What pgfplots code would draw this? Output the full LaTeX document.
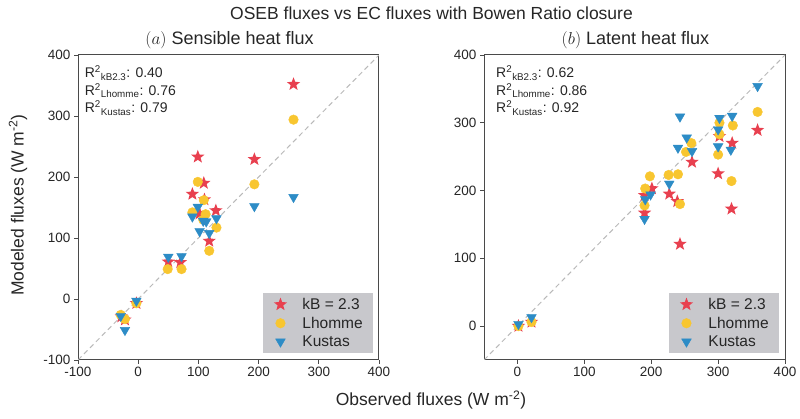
\documentclass[border=0pt]{standalone}
\usepackage{pgfplots}
\pgfplotsset{compat=1.18}
\usepackage{fontspec}
\setmainfont{Liberation Sans}
\setsansfont{Liberation Sans}
\definecolor{cred}{HTML}{E8404F}
\definecolor{cyel}{HTML}{F8C630}
\definecolor{cblue}{HTML}{2D8CC6}
\definecolor{legbg}{HTML}{C8C8CC}
\definecolor{framec}{HTML}{4A4A4A}
\definecolor{txt}{HTML}{262626}
\pgfdeclareplotmark{fstar}{%
  \pgfpathmoveto{\pgfpointpolar{90}{\pgfplotmarksize}}%
  \pgfpathlineto{\pgfpointpolar{126}{0.42\pgfplotmarksize}}%
  \pgfpathlineto{\pgfpointpolar{162}{\pgfplotmarksize}}%
  \pgfpathlineto{\pgfpointpolar{198}{0.42\pgfplotmarksize}}%
  \pgfpathlineto{\pgfpointpolar{234}{\pgfplotmarksize}}%
  \pgfpathlineto{\pgfpointpolar{270}{0.42\pgfplotmarksize}}%
  \pgfpathlineto{\pgfpointpolar{306}{\pgfplotmarksize}}%
  \pgfpathlineto{\pgfpointpolar{342}{0.42\pgfplotmarksize}}%
  \pgfpathlineto{\pgfpointpolar{18}{\pgfplotmarksize}}%
  \pgfpathlineto{\pgfpointpolar{54}{0.42\pgfplotmarksize}}%
  \pgfpathclose\pgfusepathqfill}
\pgfplotsset{
  myax/.style={
    scale only axis, width=301pt, height=305pt,
    axis line style={framec, line width=1pt},
    tick style={framec, line width=0.8pt},
    tick align=outside, major tick length=4pt,
    xtick pos=bottom, ytick pos=left,
    /pgf/number format/assume math mode=true,
    tick label style={font=\fontsize{13.5}{15}\selectfont, text=txt},
    legend style={at={(rel axis cs:0.98,0.023)}, anchor=south east, fill=legbg, draw=none,
      font=\fontsize{15.5}{17}\selectfont, text=txt, row sep=2pt, inner xsep=8pt, inner ysep=3pt},
    legend cell align=left,
  },
  limg/.style={legend image code/.code={%
    \path[draw=none,fill=none] (0pt,0pt) -- (29pt,0pt);
    \path[##1, draw=none] plot[only marks] coordinates {(9pt,0pt)};}},
  sstar/.style={only marks, mark=fstar, mark size=7pt, color=cred, limg},
  scirc/.style={only marks, mark=*, mark size=4.8pt, color=cyel, limg},
  stri/.style={only marks, mark=triangle*, mark size=5.6pt, color=cblue, mark options={rotate=180}, limg},
}
\begin{document}
\begin{tikzpicture}
\path[use as bounding box] (0pt,0pt) rectangle (800pt,419pt);
% left panel
\begin{axis}[myax, at={(78pt,59pt)}, anchor=south west,
  xmin=-100, xmax=400, ymin=-100, ymax=400,
  xtick={-100,0,100,200,300,400}, ytick={-100,0,100,200,300,400}]
\addplot[forget plot, color=gray!55, line width=1pt, dash pattern=on 5pt off 3.5pt] coordinates {(-100,-100) (400,400)};
\addplot[sstar] coordinates {
(258,352) (99,233) (109,190) (193,229) (90,172) (110,163) (129,145) (118,95)
(70,60) (50,61) (102,140) (-3,-7) (-28,-29) (-22,-34)};
\addplot[scirc] coordinates {
(258,294) (193,188) (99,192) (109,162) (90,142) (112,139) (108,130) (130,117)
(118,79) (49,49) (72,49) (-3,-7) (-22,-33) (-29,-26)};
\addplot[stri] coordinates {
(258,167) (193,152) (99,151) (90,135) (108,128) (113,127) (130,132) (102,111)
(118,108) (50,69) (72,70) (-3,-3) (-29,-28) (-22,-51)};
\legend{kB = 2.3, Lhomme, Kustas}
\node[anchor=north west, align=left, font=\fontsize{14}{17.5}\selectfont, text=txt, inner sep=0pt] at (rel axis cs:0.022,0.965)
 {R\textsuperscript{2}\textsubscript{kB2.3}: 0.40\\R\textsuperscript{2}\textsubscript{Lhomme}: 0.76\\R\textsuperscript{2}\textsubscript{Kustas}: 0.79};
\end{axis}
% right panel
\begin{axis}[myax, at={(484pt,59pt)}, anchor=south west,
  xmin=-50, xmax=400, ymin=-50, ymax=400,
  xtick={0,100,200,300,400}, ytick={0,100,200,300,400}]
\addplot[forget plot, color=gray!55, line width=1pt, dash pattern=on 5pt off 3.5pt] coordinates {(-50,-50) (400,400)};
\addplot[sstar] coordinates {
(359,289) (321,270) (302,280) (261,242) (300,225) (201,203) (227,195) (239,184)
(190,193) (190,167) (320,173) (243,121) (1.5,0) (21,6)};
\addplot[scirc] coordinates {
(359,316) (302,300) (322,296) (302,283) (260,270) (252,257) (300,253) (198,221)
(226,223) (240,224) (320,214) (191,203) (243,180) (190,178) (21,6) (1.5,0)};
\addplot[stri] coordinates {
(359,354) (243,309) (302,307) (321,310) (300,290) (253,278) (240,263) (261,258)
(300,265) (319,260) (227,210) (199,194) (191,187) (190,158) (21,13) (1.5,3)};
\legend{kB = 2.3, Lhomme, Kustas}
\node[anchor=north west, align=left, font=\fontsize{14}{17.5}\selectfont, text=txt, inner sep=0pt] at (rel axis cs:0.04,0.965)
 {R\textsuperscript{2}\textsubscript{kB2.3}: 0.62\\R\textsuperscript{2}\textsubscript{Lhomme}: 0.86\\R\textsuperscript{2}\textsubscript{Kustas}: 0.92};
\end{axis}
\node[font=\fontsize{17.5}{20}\selectfont, text=txt] at (431.5pt,406pt) {OSEB fluxes vs EC fluxes with Bowen Ratio closure};
\node[font=\fontsize{18}{20}\selectfont, text=txt] at (229.5pt,379pt) {$(a)$\ Sensible heat flux};
\node[font=\fontsize{18}{20}\selectfont, text=txt] at (635.5pt,379pt) {$(b)$\ Latent heat flux};
\node[font=\fontsize{17.5}{20}\selectfont, text=txt] at (431pt,19pt) {Observed fluxes (W m\textsuperscript{-2})};
\node[font=\fontsize{17.5}{20}\selectfont, text=txt, rotate=90] at (18pt,214pt) {Modeled fluxes (W m\textsuperscript{-2})};
\end{tikzpicture}
\end{document}
